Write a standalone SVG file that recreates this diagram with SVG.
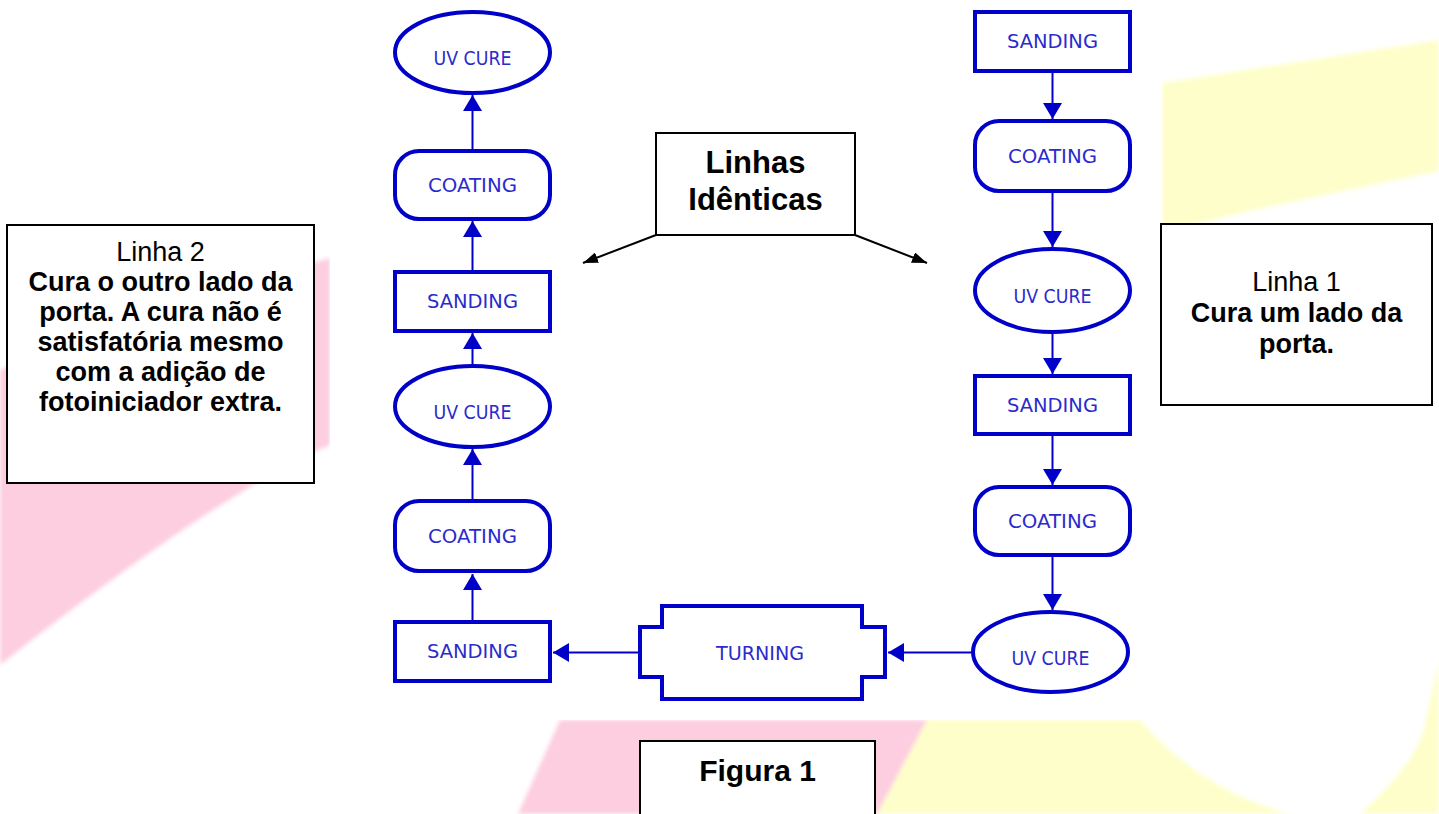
<svg xmlns="http://www.w3.org/2000/svg" width="1439" height="814" viewBox="0 0 1439 814">
<style>
.nd{fill:#fff;stroke:#0000c8;stroke-width:4}
.lb{font-family:"DejaVu Sans","Liberation Sans",sans-serif;font-size:20px;fill:#2b2bcc;text-anchor:middle}
.cn{stroke:#0000c8;stroke-width:2;fill:none}
.ck{stroke:#000;stroke-width:2;fill:none}
.bx{fill:#fff;stroke:#000;stroke-width:2}
.tr{font-family:"Liberation Sans",Arial,sans-serif;font-size:27px;fill:#000;text-anchor:middle}
.tb{font-family:"Liberation Sans",Arial,sans-serif;font-size:27px;font-weight:bold;fill:#000;text-anchor:middle}
.tc{font-family:"Liberation Sans",Arial,sans-serif;font-size:31px;font-weight:bold;fill:#000;text-anchor:middle}
</style>
<defs>
<marker id="ab" markerUnits="userSpaceOnUse" viewBox="0 0 16 19" refX="16" refY="9.5" markerWidth="16" markerHeight="19" orient="auto"><path d="M0,0 L16,9.5 L0,19 Z" fill="#0000c8"/></marker>
<marker id="ak" markerUnits="userSpaceOnUse" viewBox="0 0 15 11" refX="15" refY="5.5" markerWidth="15" markerHeight="11" orient="auto"><path d="M0,0 L15,5.5 L0,11 Z" fill="#000"/></marker>
<filter id="soft" x="-5%" y="-5%" width="110%" height="110%"><feGaussianBlur stdDeviation="2"/></filter>
</defs>
<rect width="1439" height="814" fill="#fff"/>
<g id="background" filter="url(#soft)">
<path d="M330,258 L330,445 C250,478 120,570 0,665 L0,370 C100,330 250,280 330,258 Z" fill="#fdcde0"/>
<path d="M560,720 L927,720 L877,814 L518,814 Z" fill="#fdcde0"/>
<path d="M927,720 L1140,720 Q1200,790 1290,814 L877,814 Z" fill="#fefecb"/>
<path d="M1360,814 Q1420,760 1426,720 L1439,660 L1439,814 Z" fill="#fefecb"/>
<path d="M1162,83 L1439,40 L1439,171 L1267,207 L1162,232 Z" fill="#fefecb"/>
</g>
<rect x="330" y="0" width="832" height="720" fill="#fff"/>

<g id="connectors">
<line class="cn" x1="472.5" y1="620" x2="472.5" y2="574" marker-end="url(#ab)"/>
<line class="cn" x1="472.5" y1="499" x2="472.5" y2="449" marker-end="url(#ab)"/>
<line class="cn" x1="472.5" y1="364" x2="472.5" y2="333" marker-end="url(#ab)"/>
<line class="cn" x1="472.5" y1="270" x2="472.5" y2="221" marker-end="url(#ab)"/>
<line class="cn" x1="472.5" y1="149" x2="472.5" y2="95" marker-end="url(#ab)"/>
<line class="cn" x1="1052.5" y1="73" x2="1052.5" y2="119" marker-end="url(#ab)"/>
<line class="cn" x1="1052.5" y1="193" x2="1052.5" y2="247" marker-end="url(#ab)"/>
<line class="cn" x1="1052.5" y1="334" x2="1052.5" y2="374" marker-end="url(#ab)"/>
<line class="cn" x1="1052.5" y1="436" x2="1052.5" y2="485" marker-end="url(#ab)"/>
<line class="cn" x1="1052.5" y1="557" x2="1052.5" y2="610" marker-end="url(#ab)"/>
<line class="cn" x1="971" y1="652.5" x2="888" y2="652.5" marker-end="url(#ab)"/>
<line class="cn" x1="638" y1="652.5" x2="553" y2="652.5" marker-end="url(#ab)"/>
<line class="ck" x1="656" y1="235" x2="583" y2="263" marker-end="url(#ak)"/>
<line class="ck" x1="855" y1="235" x2="927" y2="263" marker-end="url(#ak)"/>
</g>

<g id="l2-uvcure-top"><ellipse class="nd" cx="472.5" cy="52.5" rx="77.5" ry="40.5"/><text class="lb" x="472.5" y="65" textLength="78" lengthAdjust="spacingAndGlyphs">UV CURE</text></g>
<g id="l2-coating-top"><rect class="nd" x="395" y="151" width="155" height="68" rx="24"/><text class="lb" x="472.5" y="192" textLength="89" lengthAdjust="spacingAndGlyphs">COATING</text></g>
<g id="l2-sanding-top"><rect class="nd" x="395" y="272" width="155" height="59"/><text class="lb" x="472.5" y="308" textLength="91" lengthAdjust="spacingAndGlyphs">SANDING</text></g>
<g id="l2-uvcure"><ellipse class="nd" cx="472.5" cy="406.5" rx="77.5" ry="40.5"/><text class="lb" x="472.5" y="419" textLength="78" lengthAdjust="spacingAndGlyphs">UV CURE</text></g>
<g id="l2-coating"><rect class="nd" x="395" y="501" width="155" height="70" rx="24"/><text class="lb" x="472.5" y="543" textLength="89" lengthAdjust="spacingAndGlyphs">COATING</text></g>
<g id="l2-sanding"><rect class="nd" x="395" y="622" width="155" height="59"/><text class="lb" x="472.5" y="658" textLength="91" lengthAdjust="spacingAndGlyphs">SANDING</text></g>

<g id="turning"><path class="nd" d="M662,606 L862,606 L862,627 L885,627 L885,677 L862,677 L862,699 L662,699 L662,677 L640,677 L640,627 L662,627 Z"/><text class="lb" x="760" y="659.5" textLength="88" lengthAdjust="spacingAndGlyphs">TURNING</text></g>

<g id="l1-sanding-top"><rect class="nd" x="975" y="12" width="155" height="59"/><text class="lb" x="1052.5" y="48" textLength="91" lengthAdjust="spacingAndGlyphs">SANDING</text></g>
<g id="l1-coating-top"><rect class="nd" x="975" y="121" width="155" height="70" rx="24"/><text class="lb" x="1052.5" y="163" textLength="89" lengthAdjust="spacingAndGlyphs">COATING</text></g>
<g id="l1-uvcure-top"><ellipse class="nd" cx="1052.5" cy="290.5" rx="77.5" ry="41.5"/><text class="lb" x="1052.5" y="303" textLength="78" lengthAdjust="spacingAndGlyphs">UV CURE</text></g>
<g id="l1-sanding"><rect class="nd" x="975" y="376" width="155" height="58"/><text class="lb" x="1052.5" y="412" textLength="91" lengthAdjust="spacingAndGlyphs">SANDING</text></g>
<g id="l1-coating"><rect class="nd" x="975" y="487" width="155" height="68" rx="24"/><text class="lb" x="1052.5" y="528" textLength="89" lengthAdjust="spacingAndGlyphs">COATING</text></g>
<g id="l1-uvcure"><ellipse class="nd" cx="1050.5" cy="652" rx="77.5" ry="40"/><text class="lb" x="1050.5" y="665" textLength="78" lengthAdjust="spacingAndGlyphs">UV CURE</text></g>

<g id="linha2-note"><rect class="bx" x="7" y="225" width="307" height="258"/>
<text class="tr" x="160.5" y="261">Linha 2</text>
<text class="tb" x="160.5" y="291">Cura o outro lado da</text>
<text class="tb" x="160.5" y="321">porta. A cura não é</text>
<text class="tb" x="160.5" y="351">satisfatória mesmo</text>
<text class="tb" x="160.5" y="381">com a adição de</text>
<text class="tb" x="160.5" y="411">fotoiniciador extra.</text></g>

<g id="linha1-note"><rect class="bx" x="1161" y="224" width="271" height="181"/>
<text class="tr" x="1296.5" y="291">Linha 1</text>
<text class="tb" x="1296.5" y="322">Cura um lado da</text>
<text class="tb" x="1296.5" y="353">porta.</text></g>

<g id="linhas-identicas"><rect class="bx" x="656" y="133" width="199" height="102"/>
<text class="tc" x="755.5" y="173">Linhas</text>
<text class="tc" x="755.5" y="210">Idênticas</text></g>

<g id="figura"><rect class="bx" x="640" y="741" width="235" height="90"/>
<text class="tc" x="757.5" y="781" style="font-size:30px">Figura 1</text></g>
</svg>
